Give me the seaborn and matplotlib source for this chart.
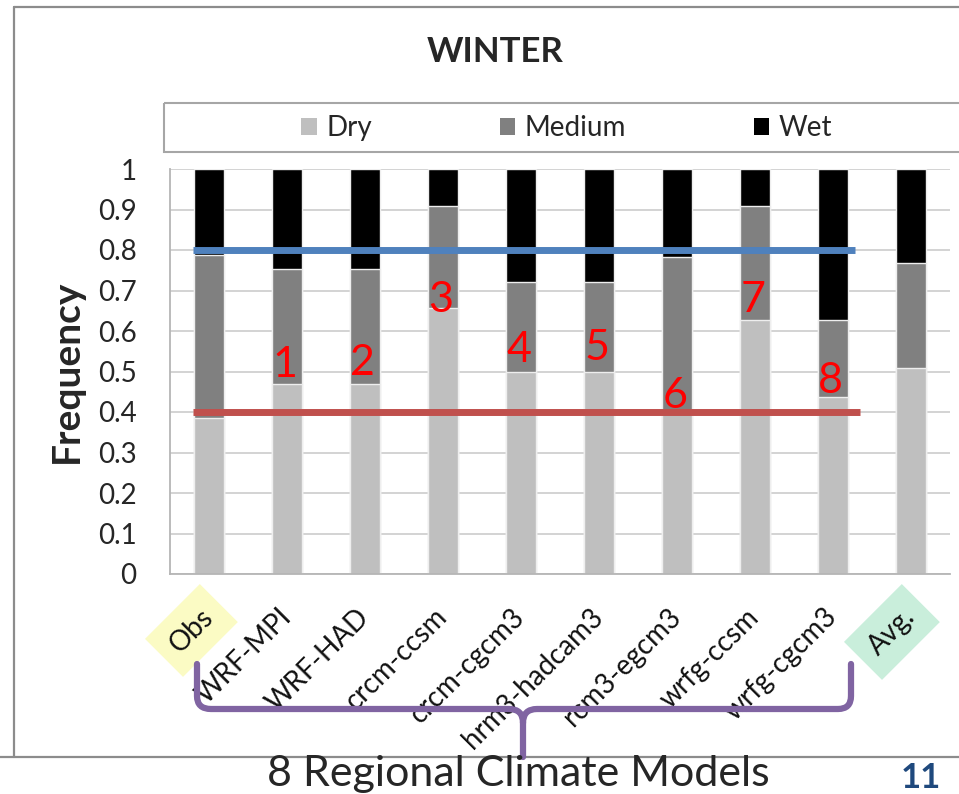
import matplotlib
matplotlib.use("Agg")
import matplotlib.pyplot as plt
import numpy as np
import pandas as pd
import seaborn as sns
from matplotlib.patches import Patch, Rectangle, PathPatch
from matplotlib.lines import Line2D
from matplotlib.path import Path
from matplotlib.transforms import Affine2D

# ---- data -------------------------------------------------------------
models = ["Obs", "WRF-MPI", "WRF-HAD", "crcm-ccsm", "crcm-cgcm3",
          "hrm3-hadcam3", "rcm3-egcm3", "wrfg-ccsm", "wrfg-cgcm3", "Avg."]
dry = [0.385, 0.468, 0.468, 0.656, 0.500, 0.500, 0.405, 0.626, 0.437, 0.508]
medium = [0.403, 0.284, 0.284, 0.253, 0.220, 0.220, 0.378, 0.282, 0.189, 0.261]
wet = [0.212, 0.248, 0.248, 0.091, 0.280, 0.280, 0.217, 0.092, 0.374, 0.231]
series_names = ["Dry", "Medium", "Wet"]
rcm_numbers = ["1", "2", "3", "4", "5", "6", "7", "8"]
upper_ref = 0.8
lower_ref = 0.4
ytick_values = [0, 0.1, 0.2, 0.3, 0.4, 0.5, 0.6, 0.7, 0.8, 0.9, 1]
ytick_labels = ["0", "0.1", "0.2", "0.3", "0.4", "0.5", "0.6", "0.7", "0.8", "0.9", "1"]

# ---- styling ----------------------------------------------------------
sns.set_style("white")
plt.rcParams["font.family"] = ["Lato", "DejaVu Sans"]

W, H = 959, 794
fig = plt.figure(figsize=(W / 100, H / 100), dpi=100)
fig.patch.set_facecolor("white")
px = Affine2D().scale(1 / W, -1 / H).translate(0, 1) + fig.transFigure

ax = fig.add_axes([170 / W, (H - 574) / H, 780 / W, 405 / H])

colors = {"Dry": "#bfbfbf", "Medium": "#808080", "Wet": "#000000"}

df = pd.DataFrame({"model": models, "dry": dry, "medium": medium, "wet": wet})
df["dry_top"] = df["dry"]
df["medium_top"] = df["dry"] + df["medium"]
df["wet_top"] = df["medium_top"] + df["wet"]

# stacked bars: draw the cumulative totals from the top segment down
for col, name in [("wet_top", "Wet"), ("medium_top", "Medium"), ("dry_top", "Dry")]:
    sns.barplot(data=df, x="model", y=col, order=models, color=colors[name],
                saturation=1, width=0.385, errorbar=None,
                edgecolor="#eeeeee", linewidth=1.0, ax=ax, zorder=2)

ax.set_xlim(-0.5, len(models) - 0.5)
ax.set_ylim(0, 1)
ax.set_axisbelow(True)
ax.yaxis.grid(True, color="#d0d0d0", lw=1.3)
ax.xaxis.grid(False)

for side in ["top", "right"]:
    ax.spines[side].set_visible(False)
for side in ["left", "bottom"]:
    ax.spines[side].set_color("#b5b5b5")
    ax.spines[side].set_linewidth(1.3)

ax.set_yticks(ytick_values)
ax.set_yticklabels(ytick_labels, fontsize=20)
ax.tick_params(axis="y", length=9, width=1.3, color="#c8c8c8", pad=15)

ax.set_xticks(range(len(models)))
ax.set_xticks(np.arange(-0.5, len(models), 1.0), minor=True)
ax.tick_params(axis="x", which="major", length=0, pad=28)
ax.tick_params(axis="x", which="minor", length=7, width=1.3, color="#b5b5b5")
ax.set_xticklabels(models, fontsize=20, rotation=45, ha="right", va="center",
                   rotation_mode="anchor", color="#111111")
labels = ax.get_xticklabels()
labels[0].set_bbox(dict(boxstyle="square,pad=0.5", fc="#fbfbc4", ec="none"))
labels[-1].set_bbox(dict(boxstyle="square,pad=0.5", fc="#c9eedb", ec="none"))

ax.set_xlabel("")
ax.set_ylabel("Frequency", fontsize=28, fontweight="bold")
ax.yaxis.set_label_coords((84 - 170) / 780, 0.5)

# reference thresholds
ax.plot([-0.205, 8.28], [upper_ref, upper_ref], color="#4f81bd", lw=5,
        solid_capstyle="butt", zorder=5)
ax.plot([-0.205, 8.35], [lower_ref, lower_ref], color="#c0504d", lw=5,
        solid_capstyle="butt", zorder=5)

# model numbers
number_y = [0.486, 0.491, 0.647, 0.523, 0.528, 0.410, 0.647, 0.447]
for i, (num, yy) in enumerate(zip(rcm_numbers, number_y), start=1):
    ax.text(i - 0.03, yy, num, color="#ff0000", fontsize=31,
            ha="center", va="baseline", zorder=4)

# legend
handles = [Patch(facecolor=colors[n], edgecolor="none") for n in series_names]
ax.legend(handles, series_names, ncol=3, frameon=False, loc="center",
          bbox_to_anchor=(567 / W, 1 - 128 / H), bbox_transform=fig.transFigure,
          fontsize=20, handlelength=0.55, handleheight=0.55, handletextpad=0.35,
          columnspacing=4.6)
fig.add_artist(Rectangle((164, 103), 800, 49, transform=px, fill=False,
                         ec="#a6a6a6", lw=1.5, zorder=-1))

# title
fig.text(495 / W, 1 - 52 / H, "WINTER", fontsize=25, fontweight="bold",
         ha="center", va="center")

# chart frame
for xs, ys in [([14, 959], [7, 7]), ([14, 14], [7, 757]), ([0, 959], [757, 757])]:
    fig.add_artist(Line2D(xs, ys, transform=px, color="#8c8c8c", lw=1.6, zorder=-1))

# brace grouping the regional models
verts = [(197, 664), (197, 696), (197, 709), (211, 709), (509, 709),
         (523, 709), (523, 723), (523, 757),
         (523, 723), (523, 709), (537, 709), (838, 709),
         (851, 709), (851, 696), (851, 664)]
codes = [Path.MOVETO, Path.LINETO, Path.CURVE3, Path.CURVE3, Path.LINETO,
         Path.CURVE3, Path.CURVE3, Path.LINETO,
         Path.MOVETO, Path.CURVE3, Path.CURVE3, Path.LINETO,
         Path.CURVE3, Path.CURVE3, Path.LINETO]
fig.add_artist(PathPatch(Path(verts, codes), transform=px, fill=False,
                         ec="#8064a2", lw=4.5, capstyle="round",
                         joinstyle="round", zorder=10))

fig.text(518 / W, 1 - 786 / H, "8 Regional Climate Models", fontsize=31,
         ha="center", va="baseline", zorder=11)
fig.text(921 / W, 1 - 788 / H, "11", fontsize=25, fontweight="bold",
         color="#1f497d", ha="center", va="baseline")

fig.savefig("out.png", dpi=100, facecolor="white")
